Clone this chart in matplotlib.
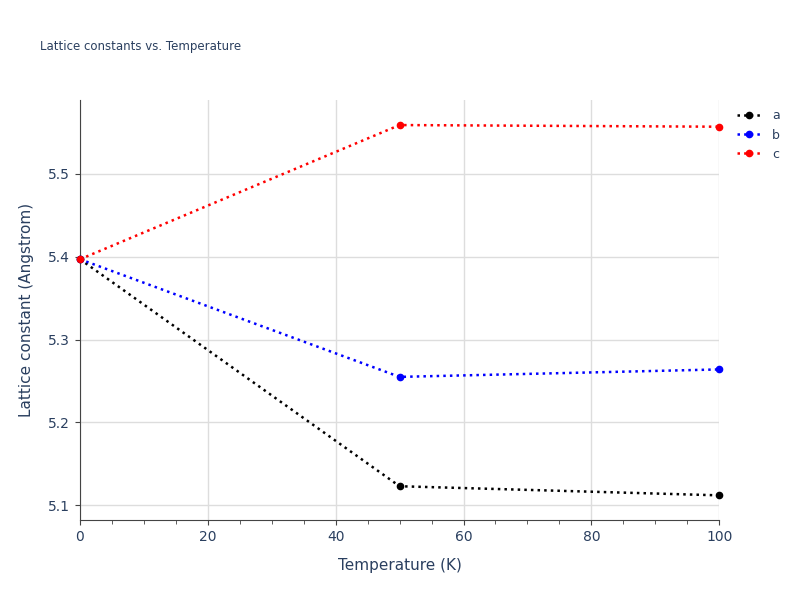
# Lattice constants vs temperature
import matplotlib
matplotlib.use('Agg')
import matplotlib.pyplot as plt
from matplotlib.ticker import MultipleLocator

temperature = [0, 50, 100]
lat_a = [5.397, 5.123, 5.112]
lat_b = [5.397, 5.255, 5.264]
lat_c = [5.397, 5.559, 5.557]

series = [('a', lat_a, 'black'), ('b', lat_b, 'blue'), ('c', lat_c, 'red')]
txt = '#2a3f5f'

fig = plt.figure(figsize=(8, 6), dpi=100)
ax = fig.add_axes([0.1, 0.133, 0.799, 0.7])

for name, vals, col in series:
    ax.plot(temperature, vals, linestyle=':', color=col, linewidth=1.8,
            marker='o', markersize=4.5, label=name, clip_on=False, zorder=3)

ax.set_xlim(0, 100)
ax.set_ylim(5.082, 5.589)
ax.xaxis.set_major_locator(MultipleLocator(20))
ax.xaxis.set_minor_locator(MultipleLocator(5))
ax.yaxis.set_major_locator(MultipleLocator(0.1))
ax.grid(True, color='#dddddd', linewidth=1)
ax.set_axisbelow(True)
for s in ['top', 'right']:
    ax.spines[s].set_visible(False)
for s in ['left', 'bottom']:
    ax.spines[s].set_color('#444444')
ax.tick_params(colors='#444444', labelcolor=txt, labelsize=10)
ax.tick_params(which='minor', colors='#444444', length=3)

ax.set_xlabel('Temperature (K)', color=txt, fontsize=11, labelpad=10)
ax.set_ylabel('Lattice constant (Angstrom)', color=txt, fontsize=11, labelpad=10)
fig.text(0.05, 0.923, 'Lattice constants vs. Temperature', color=txt, fontsize=8.5, va='center')

ax.legend(loc='upper left', bbox_to_anchor=(1.01, 1.005), frameon=False,
          fontsize=9, labelcolor=txt, handlelength=2)

fig.savefig('out.png', dpi=100)
